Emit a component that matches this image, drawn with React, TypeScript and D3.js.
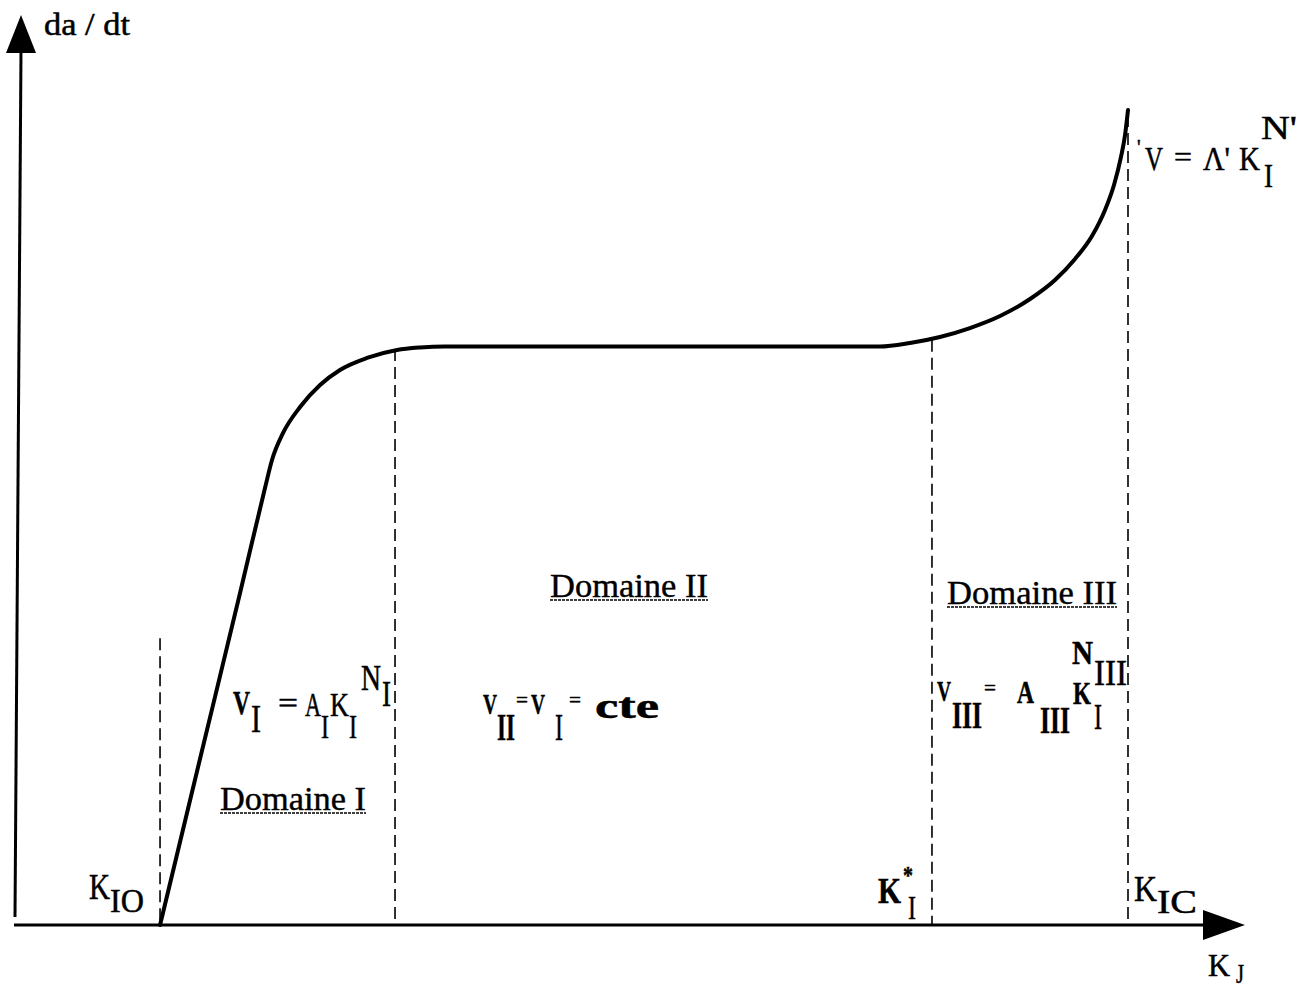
import React from "react";
import * as d3 from "d3";

const W = 1312;
const H = 991;

// Schematic curve da/dt vs K_I (arbitrary units 0..100)
const curveK = [11.72, 14.97, 18.23, 20.26, 20.83, 21.73, 23.11, 24.74, 26.36, 28.56, 31.0, 32.87, 34.9, 55.66, 70.3, 72.74, 75.18, 77.62, 80.07, 82.51, 84.54, 86.17, 87.55, 88.61, 89.34, 89.91, 90.24, 90.48];
const curveV = [0, 18.24, 36.48, 48.02, 51.1, 54.07, 56.92, 59.34, 60.99, 62.31, 63.19, 63.46, 63.57, 63.57, 63.57, 63.96, 64.62, 65.6, 66.92, 68.79, 70.88, 73.19, 75.71, 78.57, 81.32, 84.4, 86.81, 89.56];

// Dashed boundaries: K_IO, end of domain I, K_I*, K_IC (and top of each dashed line)
const boundaryK = [11.72, 30.84, 74.53, 90.48];
const boundaryTop = [31.5, 63.3, 64.3, 89.0];

const domainLabels = ["Domaine I", "Domaine II", "Domaine III"];

const FONT = "'Liberation Serif', 'DejaVu Serif', serif";

type Piece = { t: string; x: number; y: number; s: number; len?: number; b?: boolean };

const formulaPieces: Piece[] = [
  // V_I = A_I K_I^{N_I}
  { t: "V", x: 233, y: 714, s: 34, len: 17, b: true },
  { t: "I", x: 251, y: 732, s: 40, len: 10 },
  { t: "=", x: 278, y: 713, s: 30, len: 20 },
  { t: "A", x: 305, y: 716, s: 34, len: 16 },
  { t: "I", x: 321, y: 738, s: 34, len: 8 },
  { t: "K", x: 330, y: 716, s: 34, len: 19 },
  { t: "I", x: 349, y: 738, s: 34, len: 8 },
  { t: "N", x: 361, y: 690, s: 36, len: 20 },
  { t: "I", x: 382, y: 706, s: 36, len: 9 },
  // V_II = V_I = cte
  { t: "V", x: 483, y: 714, s: 30, len: 14, b: true },
  { t: "II", x: 497, y: 740, s: 38, len: 18, b: true },
  { t: "=", x: 516, y: 707, s: 22, len: 12 },
  { t: "V", x: 531, y: 714, s: 30, len: 14, b: true },
  { t: "I", x: 555, y: 740, s: 38, len: 8 },
  { t: "=", x: 569, y: 707, s: 22, len: 12 },
  { t: "cte", x: 595, y: 718, s: 36, len: 64, b: true },
  // V_III = A_III K_I^{N_III}
  { t: "V", x: 937, y: 701, s: 30, len: 14, b: true },
  { t: "III", x: 952, y: 728, s: 38, len: 30, b: true },
  { t: "=", x: 984, y: 695, s: 22, len: 12 },
  { t: "A", x: 1017, y: 703, s: 32, len: 17, b: true },
  { t: "III", x: 1040, y: 733, s: 38, len: 30, b: true },
  { t: "K", x: 1073, y: 704, s: 32, len: 18, b: true },
  { t: "I", x: 1094, y: 729, s: 36, len: 8 },
  { t: "N", x: 1072, y: 664, s: 34, len: 21, b: true },
  { t: "III", x: 1094, y: 685, s: 36, len: 33 },
  // axis marks
  { t: "K", x: 89, y: 899, s: 36, len: 21 },
  { t: "IO", x: 110, y: 912, s: 34, len: 34 },
  { t: "K", x: 878, y: 903, s: 36, len: 23, b: true },
  { t: "*", x: 903, y: 884, s: 26, len: 10, b: true },
  { t: "I", x: 908, y: 919, s: 34, len: 8 },
  { t: "K", x: 1134, y: 901, s: 36, len: 23 },
  { t: "IC", x: 1157, y: 913, s: 34, len: 40 },
  { t: "K", x: 1208, y: 976, s: 32, len: 22 },
  { t: "J", x: 1236, y: 983, s: 28, len: 8 },
  // top-right formula
  { t: "'", x: 1137, y: 154, s: 20 },
  { t: "V", x: 1145, y: 170, s: 34, len: 18 },
  { t: "=", x: 1174, y: 166, s: 28, len: 18 },
  { t: "Λ'", x: 1203, y: 170, s: 34, len: 27 },
  { t: "K", x: 1239, y: 170, s: 34, len: 21 },
  { t: "I", x: 1264, y: 187, s: 34, len: 9 },
  { t: "N'", x: 1261, y: 139, s: 34, len: 36 },
  // y axis label
  { t: "da / dt", x: 44, y: 35, s: 32, len: 86 },
];

const domainPos = [
  { x: 220, y: 810, len: 146 },
  { x: 550, y: 597, len: 158 },
  { x: 947, y: 604, len: 170 },
];

export default function App() {
  const x = d3.scaleLinear().domain([0, 100]).range([16, 1245]);
  const y = d3.scaleLinear().domain([0, 100]).range([925, 15]);

  const pts: [number, number][] = curveK.map((k, i) => [k, curveV[i]]);
  const line = d3
    .line<[number, number]>()
    .x((d) => x(d[0]))
    .y((d) => y(d[1]))
    .curve(d3.curveMonotoneX);

  const x0 = x(0);
  const y0 = y(0);
  const xEnd = x(100);
  const yTop = y(100);

  return (
    <svg
      width={W}
      height={H}
      style={{ display: "block", position: "absolute", left: 0, top: 0, background: "#fff" }}
    >
      <rect width={W} height={H} fill="#fff" />
      {/* axes */}
      <line x1={x0 - 2} y1={y0} x2={xEnd - 35} y2={y0} stroke="#000" strokeWidth={3} />
      <polygon points={`${xEnd},${y0} ${xEnd - 42},${y0 - 15} ${xEnd - 42},${y0 + 15}`} fill="#000" />
      <line x1={x0 - 1} y1={y0 - 8} x2={x0 + 5} y2={yTop + 35} stroke="#000" strokeWidth={3} />
      <polygon points={`${x0 + 5},${yTop} ${x0 - 10},${yTop + 38} ${x0 + 20},${yTop + 38}`} fill="#000" />

      {/* dashed boundaries */}
      {boundaryK.map((k, i) => (
        <line
          key={i}
          x1={x(k)}
          x2={x(k)}
          y1={y(boundaryTop[i])}
          y2={y0}
          stroke="#000"
          strokeWidth={1.6}
          strokeDasharray="12 6"
        />
      ))}

      {/* curve */}
      <path
        d={line(pts) || ""}
        fill="none"
        stroke="#000"
        strokeWidth={4}
        strokeLinejoin="round"
        strokeLinecap="round"
      />

      {/* domain labels */}
      {domainLabels.map((lab, i) => (
        <g key={lab}>
          <text
            x={domainPos[i].x}
            y={domainPos[i].y}
            fontFamily={FONT}
            fontSize={33}
            textLength={domainPos[i].len}
            lengthAdjust="spacingAndGlyphs"
            fill="#000"
            stroke="#000"
            strokeWidth={0.4}
          >
            {lab}
          </text>
          <line
            x1={domainPos[i].x}
            x2={domainPos[i].x + domainPos[i].len}
            y1={domainPos[i].y + 3}
            y2={domainPos[i].y + 3}
            stroke="#000"
            strokeWidth={1.5}
            strokeDasharray="3 1"
          />
        </g>
      ))}

      {/* formula pieces */}
      {formulaPieces.map((p, i) => (
        <text
          key={i}
          x={p.x}
          y={p.y}
          fontFamily={FONT}
          fontSize={p.s}
          fontWeight={p.b ? "bold" : "normal"}
          fill="#000"
          stroke="#000"
          strokeWidth={0.5}
          textLength={p.len}
          lengthAdjust={p.len ? "spacingAndGlyphs" : undefined}
        >
          {p.t}
        </text>
      ))}
    </svg>
  );
}
